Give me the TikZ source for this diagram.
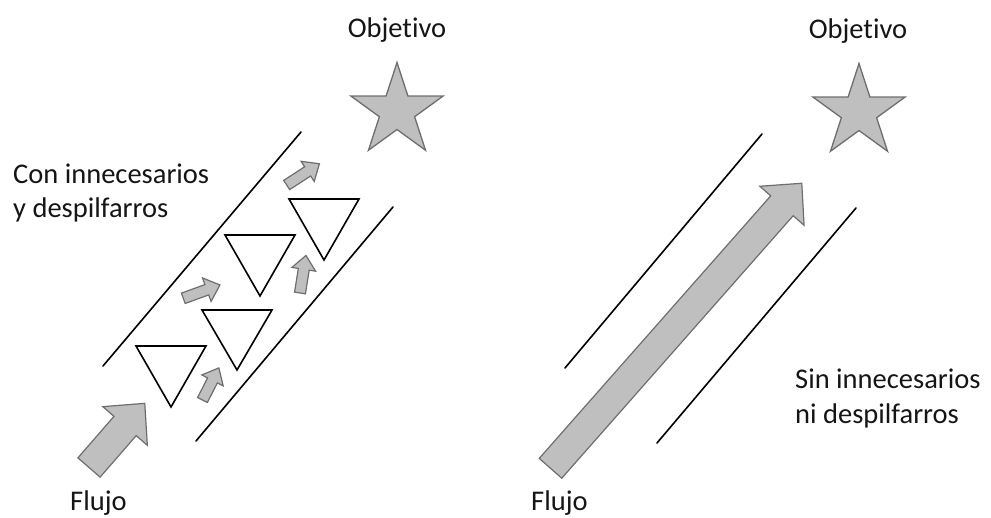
\documentclass[tikz,border=0pt]{standalone}
\usepackage{fontspec}
\setmainfont{Carlito}[Ligatures=NoCommon]
\usetikzlibrary{shapes.geometric}
\definecolor{flowfill}{HTML}{BFBFBF}
\definecolor{flowedge}{HTML}{6E6E6E}
\definecolor{ink}{HTML}{151515}
\tikzset{
  wall/.style={line width=1.6pt, black, line cap=round},
  waste/.style={draw=black, fill=white, line width=1.6pt, line join=miter},
  flow/.style={draw=flowedge, fill=flowfill, line width=1.2pt, line join=miter},
  goal/.style={star, star points=5, star point ratio=2.618, draw=flowedge,
    fill=flowfill, line width=1.3pt, minimum size=97pt, inner sep=0pt},
  txt/.style={font=\fontsize{28.5}{35}\selectfont, text=ink, inner sep=0pt}
}
% block arrow: tail centre, angle, length, shaft half width, head half width, head length
\newcommand\flowarrow[6]{%
  \begin{scope}[shift={#1}, rotate=#2]
    \draw[flow] (0,-#4) -- ({#3-#6},-#4) -- ({#3-#6},-#5) -- (#3,0)
      -- ({#3-#6},#5) -- ({#3-#6},#4) -- (0,#4) -- cycle;
  \end{scope}}
\begin{document}
\begin{tikzpicture}[x=1pt, y=-1pt]
  \useasboundingbox (0,0) rectangle (991,518);

  % ---- left: flow with waste ----
  \draw[wall] (103,366) -- (301,132);
  \draw[wall] (196,441) -- (393,207);

  \draw[waste] (136,346) -- (206,346) -- (171,407) -- cycle;
  \draw[waste] (202,310) -- (272,310) -- (237,370) -- cycle;
  \draw[waste] (225,235) -- (295,235) -- (260,296) -- cycle;
  \draw[waste] (289,199) -- (359,199) -- (324,260) -- cycle;

  \flowarrow{(89,467.5)}{49}{85}{14.7}{29.5}{30}
  \flowarrow{(202.5,400)}{63}{36}{5.5}{12}{14}
  \flowarrow{(183.3,298.3)}{20}{39}{5.5}{12.5}{14}
  \flowarrow{(300,293)}{81}{38}{5.5}{12}{14}
  \flowarrow{(286.7,185)}{33}{39}{5.5}{12}{14}

  \node[goal] (goalL) at (397,111) {};
  \node[txt, anchor=base] (objL) at (397,37.5) {Objetivo};
  \node[txt, anchor=base west] (conA) at (13,183.5) {Con innecesarios};
  \node[txt, anchor=base west] (conB) at (13,218) {y despilfarros};
  \node[txt, anchor=base west] (flujoL) at (70,511) {Flujo};

  % ---- right: flow without waste ----
  \draw[wall] (565,368) -- (762,134);
  \draw[wall] (657,443) -- (856,208);

  \flowarrow{(550.5,468.3)}{48.6}{380}{15}{29.5}{30}

  \node[goal] (goalR) at (859,112) {};
  \node[txt, anchor=base] (objR) at (858,39) {Objetivo};
  \node[txt, anchor=base west] (sinA) at (795,388.5) {Sin innecesarios};
  \node[txt, anchor=base west] (sinB) at (795,423.5) {ni despilfarros};
  \node[txt, anchor=base west] (flujoR) at (531,511) {Flujo};
\end{tikzpicture}
\end{document}
